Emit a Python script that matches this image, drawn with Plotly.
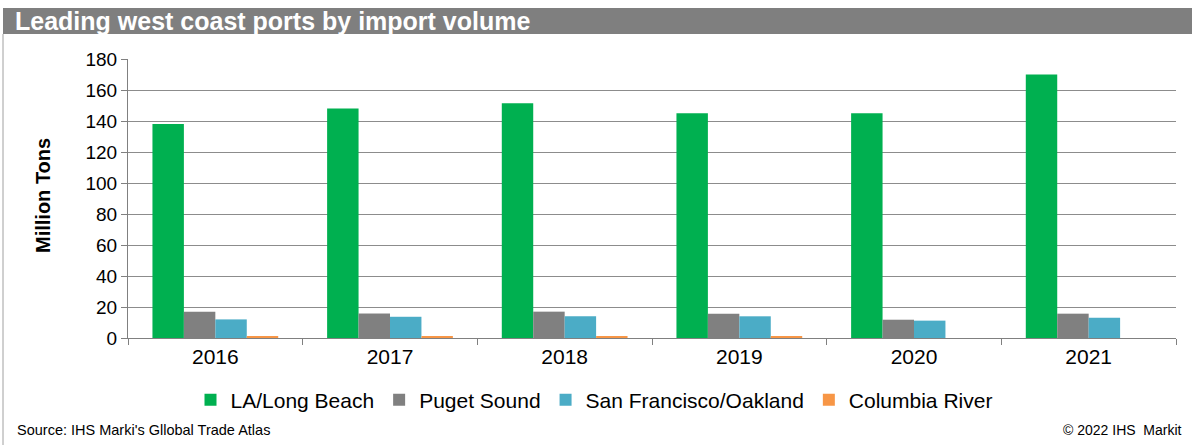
import plotly.graph_objects as go

years = ["2016", "2017", "2018", "2019", "2020", "2021"]
la_long_beach = [138, 148, 151.5, 145, 145, 170]
puget_sound = [17, 15.8, 17, 15.7, 11.8, 15.7]
sf_oakland = [12, 13.7, 14, 14, 11.2, 13]
columbia_river = [1, 1, 1, 1, 0, 0]

series = [
    ("LA/Long Beach", la_long_beach, "#00B050"),
    ("Puget Sound", puget_sound, "#808080"),
    ("San Francisco/Oakland", sf_oakland, "#4BACC6"),
    ("Columbia River", columbia_river, "#F79646"),
]

fig = go.Figure()
for name, vals, color in series:
    fig.add_trace(go.Bar(x=years, y=vals, name=name, marker=dict(color=color, line=dict(width=0))))

L, R, T, B = 128, 1176, 59, 338
W, H = R - L, B - T
def px(x):
    return (x - L) / W
def py(y):
    return (B - y) / H

font = "Liberation Sans, Arial, sans-serif"

fig.update_layout(
    width=1192, height=445,
    margin=dict(l=L, r=1192 - R, t=T, b=445 - B, autoexpand=False),
    paper_bgcolor="white", plot_bgcolor="white",
    barmode="group", bargap=0.28, bargroupgap=0,
    font=dict(family=font, color="#000000", size=20),
    showlegend=True,
    legend=dict(orientation="h", x=px(594), xanchor="center", y=py(400), yanchor="middle",
                font=dict(size=21), itemwidth=30, traceorder="normal"),
    xaxis=dict(showline=True, linecolor="#808080", linewidth=1, ticks="outside",
               tickson="boundaries", ticklen=6, tickcolor="#808080",
               tickfont=dict(size=21)),
    yaxis=dict(range=[0, 180], dtick=20, showline=True, linecolor="#808080", linewidth=1,
               ticks="outside", ticklen=6, tickcolor="#808080", showgrid=True,
               gridcolor="#8c8c8c", gridwidth=1, tickfont=dict(size=19),
               zeroline=False),
    shapes=[
        dict(type="rect", xref="paper", yref="paper", x0=px(3), x1=px(1192), y0=py(34), y1=py(8),
             fillcolor="#7F7F7F", line=dict(width=0), layer="below"),
        dict(type="line", xref="paper", yref="paper", x0=px(3), x1=px(3), y0=py(34), y1=py(445),
             line=dict(color="#a0a0a0", width=1)),
    ],
    annotations=[
        dict(text="<b>Leading west coast ports by import volume</b>", xref="paper", yref="paper",
             x=px(13), y=py(21), xanchor="left", yanchor="middle", showarrow=False,
             font=dict(size=25, color="white")),
        dict(text="<b>Million Tons</b>", xref="paper", yref="paper", textangle=-90,
             x=px(43), y=py(196), xanchor="center", yanchor="middle", showarrow=False,
             font=dict(size=20)),
        dict(text="Source: IHS Marki's Gllobal Trade Atlas", xref="paper", yref="paper",
             x=px(15), y=py(430), xanchor="left", yanchor="middle", showarrow=False,
             font=dict(size=14.5)),
        dict(text="© 2022 IHS  Markit", xref="paper", yref="paper",
             x=px(1184), y=py(430), xanchor="right", yanchor="middle", showarrow=False,
             font=dict(size=14)),
    ],
)

fig.write_html("out.html", config={"displayModeBar": False},
               post_script="document.body.style.margin='0';document.body.style.padding='0';")
